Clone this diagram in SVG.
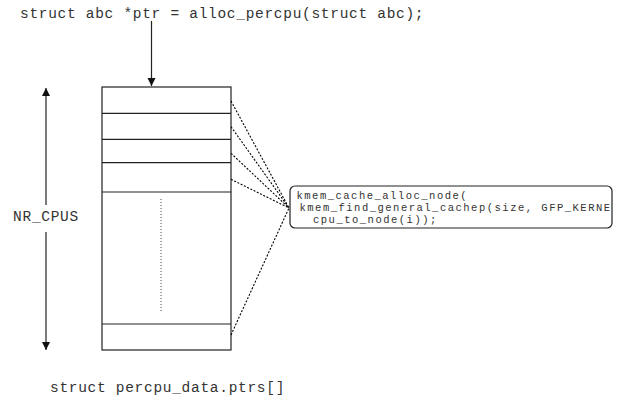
<svg xmlns="http://www.w3.org/2000/svg" width="619" height="400" viewBox="0 0 619 400">
<style>
.t{font-family:"Liberation Mono","DejaVu Sans Mono",monospace;font-size:14.5px;letter-spacing:0.7px;fill:#333}
.s{font-family:"Liberation Mono","DejaVu Sans Mono",monospace;font-size:10.5px;letter-spacing:1.5px;fill:#333}
.ln{stroke:#222;stroke-width:1.2;fill:none}
.dot{stroke:#000;stroke-width:1.1;stroke-dasharray:2,1.6;fill:none}
</style>
<defs>
<marker id="ah" markerWidth="10" markerHeight="10" refX="8" refY="4" orient="auto" markerUnits="userSpaceOnUse">
<path d="M0,0 L8,4 L0,8 Z" fill="#111"/>
</marker>
</defs>
<rect width="619" height="400" fill="#fff"/>
<g id="code-top"><text class="t" x="20" y="18">struct abc *ptr = alloc_percpu(struct abc);</text></g>
<g id="array">
<rect class="ln" x="102" y="87" width="129" height="263"/>
<line class="ln" x1="102" y1="113.3" x2="231" y2="113.3"/>
<line class="ln" x1="102" y1="139.3" x2="231" y2="139.3"/>
<line class="ln" x1="102" y1="162.7" x2="231" y2="162.7"/>
<line class="ln" x1="102" y1="192" x2="231" y2="192"/>
<line class="ln" x1="102" y1="324" x2="231" y2="324"/>
<line x1="161" y1="199" x2="161" y2="312" stroke="#444" stroke-width="1" stroke-dasharray="1,2"/>
</g>
<g id="nr-cpus"><text class="t" x="46" y="221" text-anchor="middle">NR_CPUS</text></g>
<g id="kmem-box">
<rect x="290" y="186" width="322" height="42" rx="5" ry="5" fill="#fff" stroke="#222" stroke-width="1.2"/>
<text class="s" x="296.5" y="199">kmem_cache_alloc_node(</text>
<text class="s" x="299.5" y="211">kmem_find_general_cachep(size, GFP_KERNE</text>
<text class="s" x="313" y="223">cpu_to_node(i));</text>
</g>
<g id="code-bottom"><text class="t" x="50" y="392">struct percpu_data.ptrs[]</text></g>
<g id="connectors">
<line class="ln" x1="151.5" y1="21" x2="151.5" y2="86" marker-end="url(#ah)"/>
<line class="ln" x1="46" y1="205" x2="46" y2="88" marker-end="url(#ah)"/>
<line class="ln" x1="46" y1="232" x2="46" y2="350" marker-end="url(#ah)"/>
<line class="dot" x1="231" y1="101" x2="289" y2="208"/>
<line class="dot" x1="231" y1="126.7" x2="289" y2="208"/>
<line class="dot" x1="231" y1="153.3" x2="289" y2="208"/>
<line class="dot" x1="231" y1="179.3" x2="289" y2="208"/>
<line class="dot" x1="231" y1="335" x2="289" y2="208"/>
</g>
</svg>
